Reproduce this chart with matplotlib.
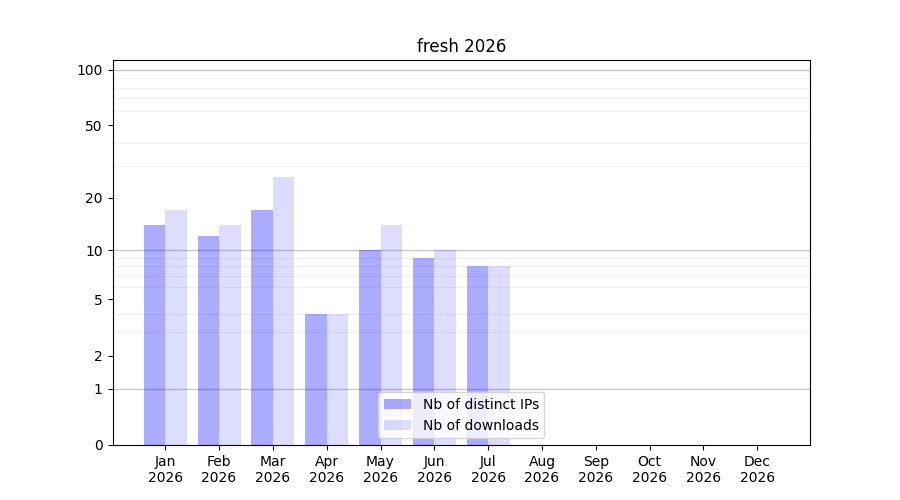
import matplotlib
matplotlib.use("Agg")
import matplotlib.pyplot as plt
import numpy as np
from matplotlib.ticker import FixedLocator

months = ["Jan", "Feb", "Mar", "Apr", "May", "Jun", "Jul", "Aug", "Sep", "Oct", "Nov", "Dec"]
year = "2026"
ips = [14, 12, 17, 4, 10, 9, 8]
downloads = [17, 14, 26, 4, 14, 10, 8]
yticks = [0, 1, 2, 5, 10, 20, 50, 100]

fig, ax = plt.subplots(figsize=(9, 5), dpi=100)

def fwd(y):
    return np.log10(1 + np.clip(y, 0, None))

def inv(y):
    return 10 ** y - 1

ax.set_yscale("function", functions=(fwd, inv))

x = np.arange(len(ips))
ax.bar(x - 0.2, ips, width=0.4, color="blue", alpha=0.33, label="Nb of distinct IPs")
ax.bar(x + 0.2, downloads, width=0.4, color="blue", alpha=0.133, label="Nb of downloads")

ax.set_ylim(0, 113)
ax.set_xlim(-0.98, 11.98)
ax.yaxis.set_major_locator(FixedLocator(yticks))
ax.set_yticklabels([str(v) for v in yticks])
minor = [v * 10 ** k for k in range(2) for v in range(2, 10)]
ax.yaxis.set_minor_locator(FixedLocator(minor))
ax.tick_params(axis="y", which="minor", length=0)
for v in [1, 10, 100]:
    ax.axhline(v, color="#c8c8c8", linewidth=1, zorder=0.5)
ax.grid(True, axis="y", which="minor", color="#efefef", linewidth=0.8, zorder=0.4)
ax.set_axisbelow(True)

ax.set_xticks(np.arange(12))
ax.set_xticklabels([f"{m}\n{year}" for m in months])
ax.set_title("fresh 2026")
ax.legend(loc="lower center")

fig.savefig("out.png")
